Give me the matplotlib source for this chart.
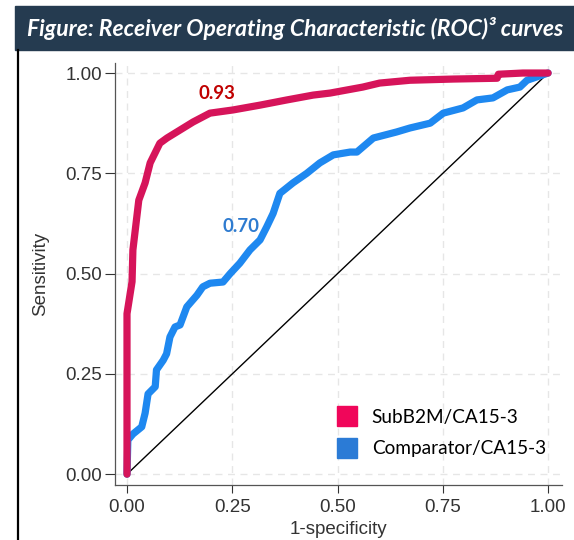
import numpy as np
import matplotlib as mpl
mpl.use('Agg')
from matplotlib import pyplot as plt
from matplotlib.lines import Line2D
from matplotlib.patches import Rectangle

plt.rcParams['font.family'] = ['Liberation Sans', 'DejaVu Sans']

# ROC curve points (1-specificity, sensitivity)
subb2m_fpr = [0.0, 0.0, 0.0, 0.012, 0.014, 0.028, 0.043, 0.055, 0.078, 0.095,
              0.126, 0.157, 0.197, 0.252, 0.316, 0.38, 0.442, 0.482, 0.56,
              0.60, 0.672, 0.775, 0.879, 0.882, 0.94, 1.0]
subb2m_tpr = [0.0, 0.10, 0.40, 0.48, 0.559, 0.683, 0.726, 0.776, 0.825, 0.838,
              0.858, 0.878, 0.90, 0.908, 0.92, 0.933, 0.945, 0.95, 0.965,
              0.975, 0.982, 0.985, 0.987, 0.997, 1.0, 1.0]

comp_fpr = [0.0, 0.002, 0.014, 0.035, 0.043, 0.05, 0.067, 0.07, 0.086, 0.094,
            0.102, 0.114, 0.126, 0.142, 0.166, 0.18, 0.197, 0.228, 0.245,
            0.268, 0.292, 0.316, 0.332, 0.347, 0.363, 0.394, 0.427,
            0.458, 0.49, 0.53, 0.546, 0.585, 0.64, 0.672, 0.72, 0.751,
            0.798, 0.831, 0.869, 0.903, 0.933, 0.95, 1.0]
comp_tpr = [0.0, 0.085, 0.10, 0.118, 0.152, 0.20, 0.218, 0.26, 0.284, 0.30,
            0.342, 0.367, 0.372, 0.417, 0.446, 0.467, 0.476, 0.479, 0.50,
            0.526, 0.559, 0.584, 0.617, 0.65, 0.70, 0.726, 0.75,
            0.776, 0.796, 0.803, 0.803, 0.838, 0.853, 0.863, 0.875, 0.90,
            0.913, 0.933, 0.938, 0.958, 0.965, 0.982, 1.0]

series_labels = ['SubB2M/CA15-3', 'Comparator/CA15-3']
auc_labels = ['0.93', '0.70']
ticks = [0.0, 0.25, 0.5, 0.75, 1.0]
tick_labels = ['0.00', '0.25', '0.50', '0.75', '1.00']

red = '#d6145a'
blue = '#1e88f0'

fig = plt.figure(figsize=(5.74, 5.4), dpi=100)

# title banner
fig.patches.append(Rectangle((15/574, 1-50/540), 1-15/574, 44/540,
                             transform=fig.transFigure, color='#253b50', zorder=0))
fig.text(295/574, 1-29/540, 'Figure: Receiver Operating Characteristic (ROC)³ curves',
         color='white', fontsize=16.5, fontweight='bold', fontstyle='italic',
         family='Lato', ha='center', va='center')
# left black rule
fig.add_artist(Line2D([17.5/574, 17.5/574], [0, 1-50/540], transform=fig.transFigure,
                      color='black', lw=1.6))

ax = fig.add_axes([115/574, 1-485/540, (562-115)/574, (485-63)/540])
ax.set_xlim(-0.0285, 1.033)
ax.set_ylim(-0.027, 1.025)

ax.plot([0, 1], [0, 1], color='black', lw=1.0, zorder=2)
ax.plot(comp_fpr, comp_tpr, color=blue, lw=5.2, solid_joinstyle='round',
        solid_capstyle='round', zorder=3)
ax.plot(subb2m_fpr, subb2m_tpr, color=red, lw=5.2, solid_joinstyle='round',
        solid_capstyle='round', zorder=4)

ax.text(0.214, 0.95, auc_labels[0], color='#c00000', fontsize=13.5, fontweight='bold',
        family='Lato', ha='center', va='center')
ax.text(0.271, 0.618, auc_labels[1], color='#2e7bd0', fontsize=13.5, fontweight='bold',
        family='Lato', ha='center', va='center')

ax.set_xticks(ticks)
ax.set_xticklabels(tick_labels)
ax.set_yticks(ticks)
ax.set_yticklabels(tick_labels)
ax.tick_params(labelsize=13.5, colors='#333333', length=7, width=0.8, pad=2)
ax.tick_params(axis='x', length=6, pad=4)
ax.grid(True, color='#e6e6e6', ls=(0, (5, 4)), lw=1.0)
ax.set_axisbelow(True)
for s in ['top', 'right']:
    ax.spines[s].set_visible(False)
for s in ['left', 'bottom']:
    ax.spines[s].set_color('#555555')
    ax.spines[s].set_linewidth(0.9)

ax.set_xlabel('1-specificity', fontsize=13.5, color='#333333', labelpad=4)
ax.set_ylabel('Sensitivity', fontsize=13.5, color='#333333', labelpad=12)

handles = [Line2D([], [], marker='s', ls='', color='#f0065a', markersize=14.5),
           Line2D([], [], marker='s', ls='', color='#2b7bd6', markersize=14.5)]
leg = fig.legend(handles, series_labels, loc='upper left',
                 bbox_to_anchor=(328/574, 1-409/540), frameon=False,
                 prop={'family': 'Lato', 'size': 13.7}, handletextpad=0.3,
                 labelspacing=0.75, borderaxespad=0, borderpad=0)

fig.savefig('out.png', dpi=100)
